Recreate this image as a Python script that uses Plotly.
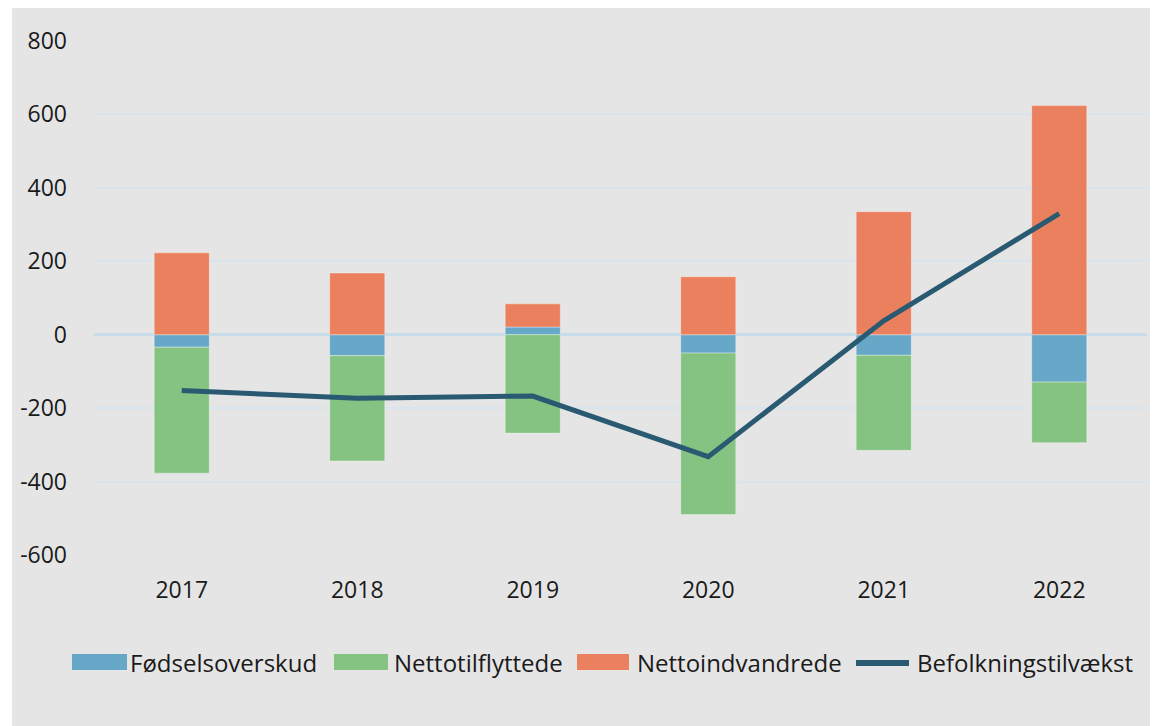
import plotly.graph_objects as go

years = ["2017", "2018", "2019", "2020", "2021", "2022"]
fodselsoverskud = [-34, -57, 21, -50, -56, -129]
nettotilflyttede = [-343, -287, -268, -440, -259, -165]
nettoindvandrede = [223, 168, 63, 158, 335, 624]
befolkningstilvaekst = [-152, -173, -167, -332, 38, 330]
y_ticks = [-600, -400, -200, 0, 200, 400, 600, 800]
y_ticktext = ["-600", "-400", "-200", "0", "200", "400", "600", "800"]

names = ["Fødselsoverskud", "Nettotilflyttede", "Nettoindvandrede", "Befolkningstilvækst"]
colors = ["#67a8c8", "#85c383", "#ea805e", "#2a5a72"]

BG = "#e5e5e5"
FONT = "Open Sans"
W, H = 1158, 726
ML, MR, MT, MB = 86, 19, 33, 179
PW, PH = W - ML - MR, H - MT - MB


def px_x(x):
    return (x - ML) / PW


def px_y(y):
    return (H - MB - y) / PH


edge = dict(color="rgba(255,255,255,0.35)", width=1)

fig = go.Figure()
series = [fodselsoverskud, nettotilflyttede, nettoindvandrede]
for name, col, vals in zip(names[:3], colors[:3], series):
    fig.add_trace(go.Bar(x=years, y=vals, name=name,
                         marker=dict(color=col, line=edge)))
fig.add_trace(go.Scatter(x=years, y=befolkningstilvaekst, name=names[3],
                         mode="lines", line=dict(color=colors[3], width=5)))

# background panel (white sliver at the left edge)
fig.add_shape(type="rect", xref="paper", yref="paper",
              x0=px_x(4), x1=px_x(W + 5), y0=px_y(H + 5), y1=px_y(-5),
              fillcolor=BG, line=dict(width=0), layer="below")

# custom legend
leg_y = 654
leg_items = [(64, 119, 120), (326, 380, 384), (569, 621, 627), (846, 903, 907)]
for i, (x0, x1, tx) in enumerate(leg_items):
    if i < 3:
        fig.add_shape(type="rect", xref="paper", yref="paper",
                      x0=px_x(x0), x1=px_x(x1), y0=px_y(leg_y + 8), y1=px_y(leg_y - 8),
                      fillcolor=colors[i], line=dict(width=0))
    else:
        fig.add_shape(type="line", xref="paper", yref="paper",
                      x0=px_x(x0 + 2), x1=px_x(x1 - 2), y0=px_y(leg_y + 1), y1=px_y(leg_y + 1),
                      line=dict(color=colors[i], width=6))
    fig.add_annotation(text=names[i], xref="paper", yref="paper",
                       x=px_x(tx), y=px_y(leg_y), xanchor="left", yanchor="middle",
                       showarrow=False, font=dict(family=FONT, size=24, color="#1a1a1a"))

fig.update_layout(
    width=W, height=H,
    margin=dict(l=ML, r=MR, t=MT, b=MB),
    paper_bgcolor="white", plot_bgcolor=BG,
    barmode="relative", bargap=0.686,
    font=dict(family=FONT, size=23, color="#1a1a1a"),
    showlegend=False,
    xaxis=dict(showgrid=False, showline=False, ticks="", ticklabelstandoff=19,
               tickfont=dict(size=23)),
    yaxis=dict(range=[-600, 800], tickvals=y_ticks, ticktext=y_ticktext, showgrid=True,
               gridcolor="#d8e5ee", gridwidth=1.5,
               zeroline=True, zerolinecolor="#c6dce8", zerolinewidth=2.5,
               showline=False, ticks="", ticklabelstandoff=26,
               tickfont=dict(size=23)),
)

fig.write_html("out.html")
